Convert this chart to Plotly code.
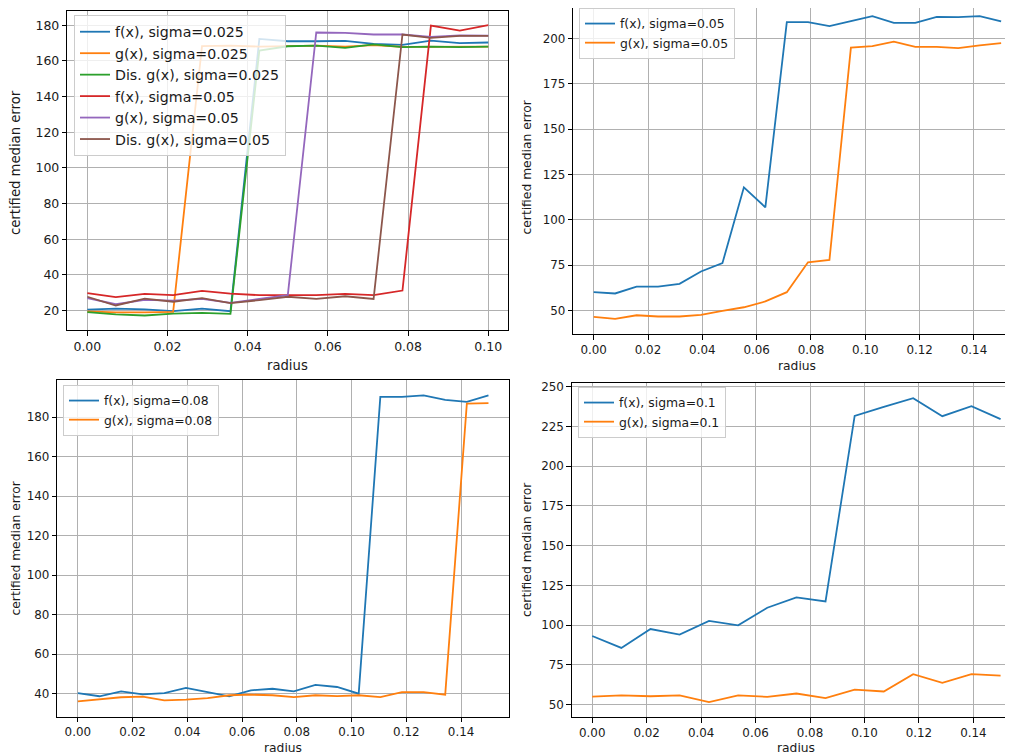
import plotly.graph_objects as go

# ---------------- data ----------------
radius_a = [0.0, 0.0071, 0.0143, 0.0214, 0.0286, 0.0357, 0.0429, 0.05, 0.0571,
            0.0643, 0.0714, 0.0786, 0.0857, 0.0929, 0.1]
radius_b = [0.0, 0.0079, 0.0158, 0.0237, 0.0316, 0.0395, 0.0474, 0.0553, 0.0632,
            0.0711, 0.0789, 0.0868, 0.0947, 0.1026, 0.1105, 0.1184, 0.1263,
            0.1342, 0.1421, 0.15]
radius_c = [0.0, 0.0107, 0.0214, 0.0321, 0.0429, 0.0536, 0.0643, 0.075, 0.0857,
            0.0964, 0.1071, 0.1179, 0.1286, 0.1393, 0.15]

# top-left panel
f_025 = [20.5, 21.0, 20.6, 19.6, 21.0, 19.6, 172.3, 171.0, 171.0, 171.2, 169.5, 169.0, 171.4, 170.0, 170.3]
g_025 = [19.5, 19.0, 19.0, 19.2, 168.3, 168.5, 168.0, 168.3, 168.5, 168.0, 168.8, 167.8, 168.0, 168.2, 168.0]
dg_025 = [19.1, 17.8, 17.2, 18.3, 18.7, 18.1, 165.8, 168.2, 168.6, 167.3, 169.2, 167.7, 168.0, 167.7, 168.0]
f_05 = [29.7, 27.5, 29.3, 28.6, 31.0, 29.5, 28.6, 28.6, 28.6, 29.3, 28.6, 31.2, 179.8, 177.0, 180.0]
g_05 = [27.0, 23.5, 26.0, 25.5, 26.5, 24.3, 26.5, 28.6, 175.9, 175.7, 174.8, 174.8, 173.5, 174.3, 174.2]
dg_05 = [27.7, 22.8, 26.7, 24.9, 26.9, 24.1, 25.8, 27.7, 26.5, 28.0, 26.5, 174.8, 172.9, 174.0, 174.0]

# top-right panel (sigma=0.05)
f_05b = [60.1, 59.4, 63.2, 63.2, 64.7, 71.5, 76.1, 117.9, 106.9, 209.0, 209.0, 206.8,
         209.5, 212.3, 208.6, 208.6, 211.9, 211.7, 212.3, 209.4]
g_05b = [46.5, 45.4, 47.4, 46.7, 46.7, 47.6, 49.8, 51.8, 55.0, 60.1, 76.6, 77.9,
         194.9, 195.8, 198.2, 195.3, 195.3, 194.7, 196.2, 197.4]

# bottom-left panel (sigma=0.08)
f_08 = [40.3, 38.7, 41.2, 39.7, 40.3, 42.9, 40.8, 38.7, 41.7, 42.5, 41.2, 44.5,
        43.4, 40.0, 190.3, 190.3, 191.1, 188.8, 187.8, 191.1]
g_08 = [36.1, 37.2, 38.2, 38.5, 36.6, 37.0, 37.8, 39.2, 39.5, 39.2, 38.3, 39.2,
        38.8, 39.2, 38.3, 40.8, 40.8, 39.5, 186.9, 187.1]

# bottom-right panel (sigma=0.1)
f_1 = [93.1, 85.6, 97.5, 94.0, 102.6, 99.8, 110.9, 117.4, 114.9, 231.7, 237.4, 242.8, 231.5, 237.8, 229.6]
g_1 = [55.0, 55.7, 55.2, 55.7, 51.5, 55.7, 54.8, 56.9, 54.0, 59.4, 58.2, 69.1, 63.6, 69.1, 68.2]

xticks_a = [0.0, 0.02, 0.04, 0.06, 0.08, 0.10]
xticks_b = [0.0, 0.02, 0.04, 0.06, 0.08, 0.10, 0.12, 0.14]
yticks_tl = [20, 40, 60, 80, 100, 120, 140, 160, 180]
yticks_tr = [50, 75, 100, 125, 150, 175, 200]
yticks_bl = [40, 60, 80, 100, 120, 140, 160, 180]
yticks_br = [50, 75, 100, 125, 150, 175, 200, 225, 250]

C = ["#1f77b4", "#ff7f0e", "#2ca02c", "#d62728", "#9467bd", "#8c564b"]
W, H = 1013, 755
OFF = 8          # browser body margin: page pixel p maps to figure pixel p - OFF
FONT = "DejaVu Sans"
TXT = "#1a1a1a"
LW = 1.8


def auto_range(*series):
    lo = min(min(s) for s in series)
    hi = max(max(s) for s in series)
    m = 0.05 * (hi - lo)
    return [lo - m, hi + m]


def px_x(p):
    return min(1.0, max(0.0, (p - OFF) / W))


def px_y(p):
    return min(1.0, max(0.0, 1 - (p - OFF) / H))


fig = go.Figure()

panels = [
    dict(ax="", leg="legend", x=radius_a,
         series=[("f(x), sigma=0.025", f_025, C[0]), ("g(x), sigma=0.025", g_025, C[1]),
                 ("Dis. g(x), sigma=0.025", dg_025, C[2]), ("f(x), sigma=0.05", f_05, C[3]),
                 ("g(x), sigma=0.05", g_05, C[4]), ("Dis. g(x), sigma=0.05", dg_05, C[5])],
         xd=(67.3, 508.3), yd=(10.7, 330.0), xr=[-0.005, 0.105], xt=xticks_a, yt=yticks_tl,
         tick=12.5, title=13.2, legf=14.2, legpos=(74, 15), ytitle_x=16, ytitle_y=163,
         xtitle_y=365.5),
    dict(ax="2", leg="legend2", x=radius_b,
         series=[("f(x), sigma=0.05", f_05b, C[0]), ("g(x), sigma=0.05", g_05b, C[1])],
         xd=(573.3, 1021.5), yd=(1.0, 334.0), xr=[-0.0075, 0.1575], xt=xticks_b, yt=yticks_tr,
         tick=11.9, title=12.3, legf=12.4, legpos=(579, 8), ytitle_x=527, ytitle_y=167.5,
         xtitle_y=365.7),
    dict(ax="3", leg="legend3", x=radius_b,
         series=[("f(x), sigma=0.08", f_08, C[0]), ("g(x), sigma=0.08", g_08, C[1])],
         xd=(57.3, 509.0), yd=(380.0, 716.7), xr=[-0.0075, 0.1575], xt=xticks_b, yt=yticks_bl,
         tick=11.9, title=12.3, legf=12.4, legpos=(63, 385), ytitle_x=15, ytitle_y=548.5,
         xtitle_y=748),
    dict(ax="4", leg="legend4", x=radius_c,
         series=[("f(x), sigma=0.1", f_1, C[0]), ("g(x), sigma=0.1", g_1, C[1])],
         xd=(571.8, 1021.0), yd=(383.0, 717.3), xr=[-0.0075, 0.1575], xt=xticks_b, yt=yticks_br,
         tick=11.9, title=12.3, legf=12.4, legpos=(578, 387), ytitle_x=527, ytitle_y=550,
         xtitle_y=748),
]

annotations = []
for p in panels:
    xa = "x" + p["ax"]
    ya = "y" + p["ax"]
    for name, vals, col in p["series"]:
        fig.add_trace(go.Scatter(
            x=p["x"], y=vals, mode="lines", name=name,
            line=dict(color=col, width=LW),
            xaxis=xa, yaxis=ya, legend=p["leg"]))

    # y scale: matplotlib-like 5% margins, trimmed if the panel top lies above the page area
    yr = auto_range(*[s[1] for s in p["series"]])
    top_px, bot_px = p["yd"]
    x_mirror = True
    if top_px < OFF:
        yr[1] = yr[0] + (yr[1] - yr[0]) * (bot_px - OFF) / (bot_px - top_px)
        top_px = OFF
        x_mirror = False
    # x scale: trimmed if the panel's right end lies beyond the figure
    xr = list(p["xr"])
    left_px, right_px = p["xd"]
    y_mirror = True
    if right_px - OFF > W:
        xr[1] = xr[0] + (xr[1] - xr[0]) * (W + OFF - left_px) / (right_px - left_px)
        right_px = W + OFF
        y_mirror = False

    axis_common = dict(showgrid=True, gridcolor="#b0b0b0", gridwidth=1,
                       showline=True, linecolor="#000000", linewidth=1,
                       ticks="outside", ticklen=4.5, tickwidth=1, tickcolor="#000000",
                       tickfont=dict(family=FONT, size=p["tick"], color=TXT),
                       zeroline=False, fixedrange=True, automargin=False)
    fig.layout["xaxis" + p["ax"]] = dict(
        axis_common, domain=[px_x(left_px), px_x(right_px)],
        range=xr, tickvals=p["xt"], tickformat=".2f",
        anchor=ya, mirror=x_mirror)
    fig.layout["yaxis" + p["ax"]] = dict(
        axis_common, domain=[px_y(bot_px), px_y(top_px)],
        range=yr, tickvals=p["yt"], anchor=xa, mirror=y_mirror)
    fig.layout[p["leg"]] = dict(
        x=px_x(p["legpos"][0]), y=px_y(p["legpos"][1]), xanchor="left", yanchor="top",
        xref="paper", yref="paper",
        bgcolor="rgba(255,255,255,0.8)", bordercolor="#cccccc", borderwidth=1,
        font=dict(family=FONT, size=p["legf"], color=TXT), tracegroupgap=0)
    annotations.append(dict(
        text="certified median error", x=px_x(p["ytitle_x"]), y=px_y(p["ytitle_y"]),
        xref="paper", yref="paper", showarrow=False, textangle=-90,
        xanchor="center", yanchor="middle",
        font=dict(family=FONT, size=p["title"], color=TXT)))
    annotations.append(dict(
        text="radius", x=px_x((p["xd"][0] + p["xd"][1]) / 2),
        y=px_y(p["xtitle_y"]),
        xref="paper", yref="paper", showarrow=False,
        xanchor="center", yanchor="middle",
        font=dict(family=FONT, size=p["title"], color=TXT)))

fig.update_layout(
    width=W, height=H, margin=dict(l=0, r=0, t=0, b=0, autoexpand=False),
    paper_bgcolor="white", plot_bgcolor="white",
    font=dict(family=FONT, color=TXT),
    annotations=annotations, showlegend=True)

fig.write_html("out.html")
